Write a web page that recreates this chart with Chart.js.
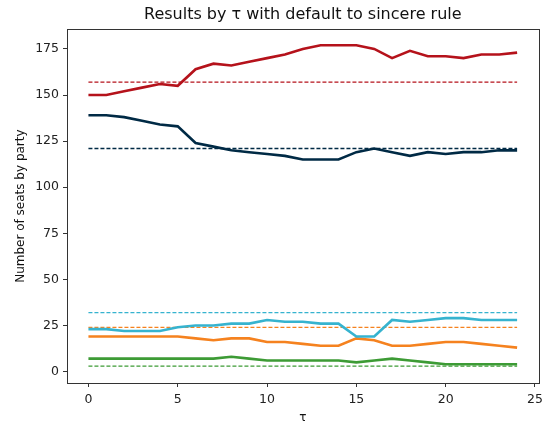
<!DOCTYPE html>
<html lang="en">

<head>
    <meta charset="UTF-8">
    <title>Results by tau</title>
    <script src="https://cdn.jsdelivr.net/npm/chart.js"></script>
    <style>
        html, body {
            margin: 0;
            padding: 0;
            background: #fff;
        }

        .wrap {
            width: 548px;
            height: 425px;
        }
    </style>
</head>

<body>
    <div class="wrap">
        <canvas id="myChart" width="548" height="425"></canvas>
    </div>
</body>

</html>
<script>
    // tau values 0..24
    const taus = [0, 1, 2, 3, 4, 5, 6, 7, 8, 9, 10, 11, 12, 13, 14, 15, 16, 17, 18, 19, 20, 21, 22, 23, 24];

    // seats by party for each tau
    const liberal = [150, 150, 152, 154, 156, 155, 164, 167, 166, 168, 170, 172, 175, 177, 177, 177, 175, 170, 174, 171, 171, 170, 172, 172, 173];
    const conservative = [139, 139, 138, 136, 134, 133, 124, 122, 120, 119, 118, 117, 115, 115, 115, 119, 121, 119, 117, 119, 118, 119, 119, 120, 120];
    const bloc = [23, 23, 22, 22, 22, 24, 25, 25, 26, 26, 28, 27, 27, 26, 26, 19, 19, 28, 27, 28, 29, 29, 28, 28, 28];
    const ndp = [19, 19, 19, 19, 19, 19, 18, 17, 18, 18, 16, 16, 15, 14, 14, 18, 17, 14, 14, 15, 16, 16, 15, 14, 13];
    const green = [7, 7, 7, 7, 7, 7, 7, 7, 8, 7, 6, 6, 6, 6, 6, 5, 6, 7, 6, 5, 4, 4, 4, 4, 4];

    // sincere result (dashed reference lines)
    const sincere = { liberal: 157, conservative: 121, bloc: 32, ndp: 24, green: 3 };

    const xTicks = [0, 5, 10, 15, 20, 25];
    const yTicks = [0, 25, 50, 75, 100, 125, 150, 175];

    const colors = {
        liberal: '#b5121b',
        conservative: '#002a45',
        bloc: '#36b3cf',
        ndp: '#f5821f',
        green: '#3d9b35'
    };

    const toPoints = (arr) => arr.map((v, i) => ({ x: taus[i], y: v }));
    const flat = (v) => taus.map(t => ({ x: t, y: v }));

    const solid = (data, color) => ({
        data: toPoints(data),
        borderColor: color,
        borderWidth: 2.6,
        pointRadius: 0,
        tension: 0,
        fill: false
    });
    const dashed = (v, color) => ({
        data: flat(v),
        borderColor: color,
        borderWidth: 1.3,
        borderDash: [4, 2],
        pointRadius: 0,
        tension: 0,
        fill: false
    });

    // box around the plot area
    const frame = {
        id: 'frame',
        afterDraw(chart) {
            const a = chart.chartArea;
            const c = chart.ctx;
            c.save();
            c.strokeStyle = '#333';
            c.lineWidth = 1;
            c.strokeRect(Math.round(a.left) + 0.5, Math.round(a.top) + 0.5,
                Math.round(a.right - a.left), Math.round(a.bottom - a.top));
            c.restore();
        }
    };

    const font = { family: 'DejaVu Sans', size: 12 };
    const tickFont = { family: 'DejaVu Sans', size: 12.5 };

    new Chart(document.getElementById('myChart').getContext('2d'), {
        type: 'line',
        data: {
            datasets: [
                solid(liberal, colors.liberal),
                solid(conservative, colors.conservative),
                solid(bloc, colors.bloc),
                solid(ndp, colors.ndp),
                solid(green, colors.green),
                dashed(sincere.liberal, colors.liberal),
                dashed(sincere.conservative, colors.conservative),
                dashed(sincere.bloc, colors.bloc),
                dashed(sincere.ndp, colors.ndp),
                dashed(sincere.green, colors.green)
            ]
        },
        options: {
            responsive: false,
            animation: false,
            layout: { padding: { left: 8, right: 4, top: 0, bottom: 0 } },
            plugins: {
                legend: { display: false },
                tooltip: { enabled: false },
                title: {
                    display: true,
                    fullSize: false,
                    text: 'Results by τ with default to sincere rule',
                    color: '#111',
                    font: { family: 'DejaVu Sans', size: 16, weight: 'normal' },
                    padding: { top: 5, bottom: 5 }
                }
            },
            scales: {
                x: {
                    type: 'linear',
                    min: -1.2,
                    max: 25.2,
                    afterBuildTicks: (s) => { s.ticks = xTicks.map(v => ({ value: v })); },
                    afterFit: (s) => { s.height = 42; },
                    grid: { display: true, drawOnChartArea: false, drawTicks: true, tickLength: 4, color: '#333' },
                    border: { display: false },
                    ticks: { color: '#222', font: tickFont, padding: 5, maxRotation: 0 },
                    title: { display: true, text: 'τ', color: '#111', font: font, padding: { top: 4, bottom: 0 } }
                },
                y: {
                    type: 'linear',
                    min: -6.2,
                    max: 185.7,
                    afterBuildTicks: (s) => { s.ticks = yTicks.map(v => ({ value: v })); },
                    afterFit: (s) => { s.width = 59; },
                    grid: { display: true, drawOnChartArea: false, drawTicks: true, tickLength: 4, color: '#333' },
                    border: { display: false },
                    ticks: { color: '#222', font: tickFont, padding: 4 },
                    title: { display: true, text: 'Number of seats by party', color: '#111', font: font, padding: { top: 6, bottom: 2 } }
                }
            }
        },
        plugins: [frame]
    });
</script>
